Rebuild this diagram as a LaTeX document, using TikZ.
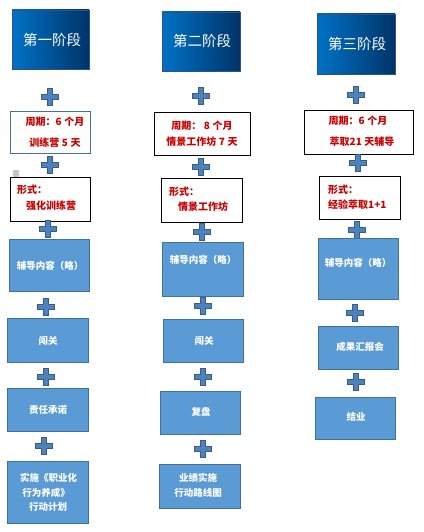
\documentclass[tikz,border=0pt]{standalone}
\usepackage{fontspec}
\setmainfont{Noto Sans CJK SC}
\newfontfamily\cjk{Noto Sans CJK SC}
\definecolor{hdrL}{RGB}{0,114,198}
\definecolor{hdrR}{RGB}{0,52,104}
\definecolor{hdrB}{RGB}{47,82,143}
\definecolor{bxF}{RGB}{91,155,213}
\definecolor{bxB}{RGB}{65,113,156}
\definecolor{plF}{RGB}{79,129,189}
\definecolor{plB}{RGB}{56,93,138}
\definecolor{txR}{RGB}{200,0,0}
\definecolor{frB}{RGB}{65,113,156}
\usetikzlibrary{shadings}
\newcommand{\gp}{\hspace{2.5pt}}
\tikzset{
  hdr/.style={draw=hdrB, line width=0.8pt, left color=hdrL, right color=hdrR, shading angle=90, inner sep=0pt},
  htxt/.style={text=white, font=\cjk\fontsize{14.5}{16}\selectfont, inner sep=0pt},
  wbox/.style={draw=black, line width=0.9pt, fill=white, inner sep=0pt},
  bbox/.style={draw=bxB, line width=0.9pt, fill=bxF, inner sep=0pt},
  rtxt/.style={text=txR, font=\cjk\bfseries\fontsize{10}{11}\selectfont, inner sep=0pt},
  wtxt/.style={text=white, font=\cjk\bfseries\fontsize{9.5}{14.5}\selectfont, inner sep=0pt, align=center},
  pics/plussign/.style={code={
    \filldraw[fill=plF, draw=plB, line width=0.7pt]
      (-2.6,-8.5) -- (2.6,-8.5) -- (2.6,-2.6) -- (8.5,-2.6) -- (8.5,2.6) -- (2.6,2.6) -- (2.6,8.5) -- (-2.6,8.5) -- (-2.6,2.6) -- (-8.5,2.6) -- (-8.5,-2.6) -- (-2.6,-2.6) -- cycle;
  }}
}
\begin{document}
\begin{tikzpicture}[x=1pt,y=-1pt]
\useasboundingbox (0,0) rectangle (423,532);
\fill[white] (0,0) rectangle (423,532);

% ---------- Column 1 ----------
\node[hdr, minimum width=77pt, minimum height=59pt] (h1) at (50.5,39.5) {};
\node[htxt] (h1t) at (52,40) {第一阶段};
\pic at (50,97) {plussign};
\node[draw=frB, line width=0.9pt, fill=white, minimum width=80pt, minimum height=42pt, inner sep=0pt] (c1a) at (50,132) {};
\node[rtxt] (c1a1) at (55,122) {周期：6\gp 个月};
\node[rtxt] (c1a2) at (55,143) {训练营\gp 5\gp 天};
\pic at (50,165) {plussign};
\fill[gray!45] (13,170) rectangle (19,177);
\node[wbox, minimum width=80pt, minimum height=44pt] (c1b) at (50,199) {};
\node[rtxt, anchor=west] (c1b1) at (17,190) {形式：};
\node[rtxt, anchor=west] (c1b2) at (26,206) {强化训练营};
\pic at (48,229) {plussign};
\node[bbox, minimum width=80pt, minimum height=52pt] (c1c) at (49,265) {};
\node[wtxt] (c1ct) at (50,266) {辅导内容（略）};
\pic at (46,307) {plussign};
\node[bbox, minimum width=81pt, minimum height=44pt] (c1d) at (47.5,340) {};
\node[wtxt] (c1dt) at (48,341) {闯关};
\pic at (46,377) {plussign};
\node[bbox, minimum width=81pt, minimum height=43pt] (c1e) at (47.5,409.5) {};
\node[wtxt] (c1et) at (48,410) {责任承诺};
\pic at (44,446) {plussign};
\node[bbox, minimum width=81pt, minimum height=62pt] (c1f) at (47.5,492) {};
\node[wtxt] (c1f1) at (48.5,478) {实施《职业化};
\node[wtxt] (c1f2) at (46,492.5) {行为养成》};
\node[wtxt] (c1f3) at (48,507) {行动计划};

% ---------- Column 2 ----------
\node[hdr, minimum width=78pt, minimum height=59pt] (h2) at (201,41.5) {};
\node[htxt] (h2t) at (202,41) {第二阶段};
\pic at (201,96) {plussign};
\node[wbox, minimum width=96pt, minimum height=43pt] (c2a) at (202,133.5) {};
\node[rtxt] (c2a1) at (202,126) {周期：\gp 8\gp 个月};
\node[rtxt] (c2a2) at (202,141.5) {情景工作坊\gp 7\gp 天};
\pic at (201,167) {plussign};
\node[wbox, minimum width=81pt, minimum height=44pt] (c2b) at (201.5,200) {};
\node[rtxt, anchor=west] (c2b1) at (169,192) {形式：};
\node[rtxt, anchor=west] (c2b2) at (178,207) {情景工作坊};
\pic at (202,232) {plussign};
\node[bbox, minimum width=81pt, minimum height=54pt] (c2c) at (202.5,269) {};
\node[wtxt] (c2ct) at (203,260) {辅导内容（略）};
\pic at (203,306) {plussign};
\node[bbox, minimum width=80pt, minimum height=43pt] (c2d) at (203,340.5) {};
\node[wtxt] (c2dt) at (204,341) {闯关};
\pic at (203,377) {plussign};
\node[bbox, minimum width=80pt, minimum height=43pt] (c2e) at (200,412.5) {};
\node[wtxt] (c2et) at (201,412) {复盘};
\pic at (203,449) {plussign};
\node[bbox, minimum width=81pt, minimum height=44pt] (c2f) at (199.5,486) {};
\node[wtxt] (c2f1) at (198,478) {业绩实施};
\node[wtxt] (c2f2) at (198,493) {行动路线图};

% ---------- Column 3 ----------
\node[hdr, minimum width=78pt, minimum height=60pt] (h3) at (356,44) {};
\node[htxt] (h3t) at (357,44) {第三阶段};
\pic at (356,95) {plussign};
\node[wbox, minimum width=109pt, minimum height=44pt] (c3a) at (358.5,132) {};
\node[rtxt] (c3a1) at (358,121) {周期：6\gp 个月};
\node[rtxt] (c3a2) at (362,142) {萃取21\gp 天辅导};
\pic at (358,163) {plussign};
\node[wbox, minimum width=81pt, minimum height=43pt] (c3b) at (359.5,197.5) {};
\node[rtxt, anchor=west] (c3b1) at (328,190) {形式：};
\node[rtxt, anchor=west] (c3b2) at (328,205) {经验萃取1+1};
\pic at (357,230) {plussign};
\node[bbox, minimum width=80pt, minimum height=61pt] (c3c) at (358,268.5) {};
\node[wtxt] (c3ct) at (358,263) {辅导内容（略）};
\pic at (355,313) {plussign};
\node[bbox, minimum width=80pt, minimum height=43pt] (c3d) at (358,347.5) {};
\node[wtxt] (c3dt) at (360,347) {成果汇报会};
\pic at (356,382) {plussign};
\node[bbox, minimum width=80pt, minimum height=42pt] (c3e) at (355,418) {};
\node[wtxt] (c3et) at (356,417) {结业};
\end{tikzpicture}
\end{document}
